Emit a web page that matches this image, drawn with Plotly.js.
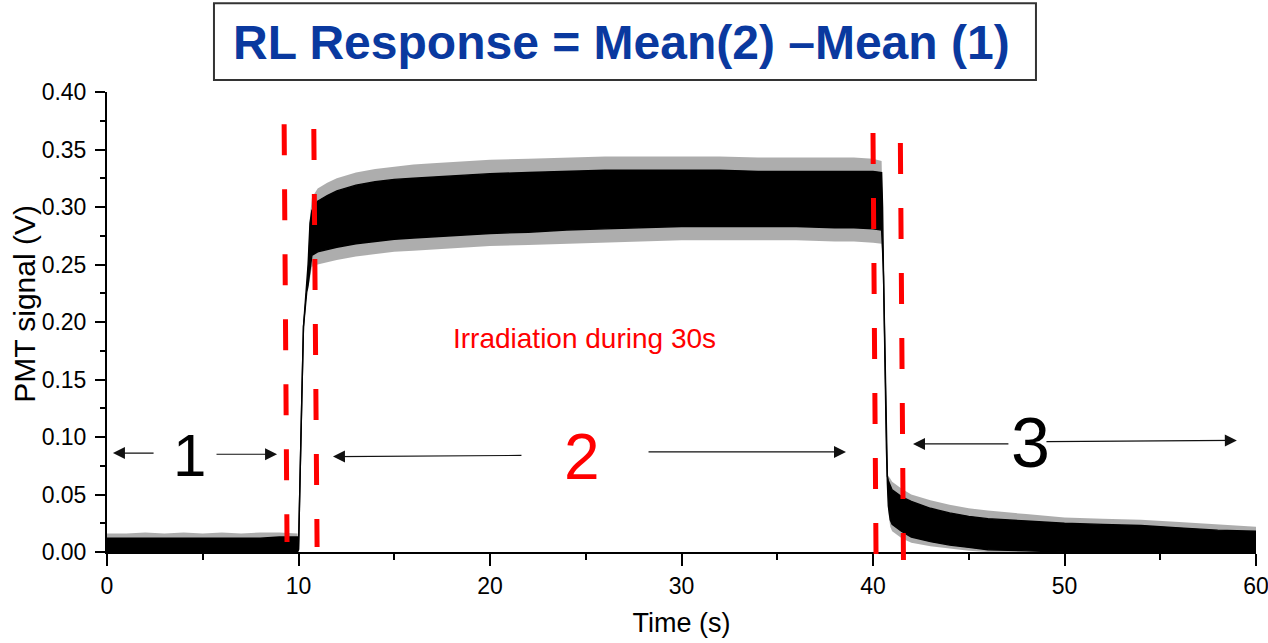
<!DOCTYPE html>
<html>
<head>
<meta charset="utf-8">
<script src="https://cdn.plot.ly/plotly-3.0.1.min.js"></script>
<style>html,body{margin:0;padding:0;background:#fff;}#chart{width:1268px;height:643px;}</style>
</head>
<body>
<div id="chart"></div>
<script>
// ---- Data (time in s, PMT signal in V) ----
const time = [0, 1, 2, 3, 4, 5, 6, 7, 8, 9, 9.95, 10.0, 10.08, 10.17, 10.26, 10.35, 10.43, 10.5, 10.6, 10.7,
  11.0, 11.5, 12, 13, 14, 15, 16, 17, 18, 20, 22, 24, 26, 28, 30, 32, 34, 36, 38, 39, 40, 40.45,
  40.5, 40.55, 40.6, 40.65, 40.7, 40.75, 40.8, 40.9, 41.0, 41.5, 42, 43, 44, 45, 46, 48, 50, 52, 54, 56, 58, 60];

// dense (core) envelope of the noisy trace
const coreUpper = [0.012, 0.012, 0.012, 0.012, 0.012, 0.012, 0.012, 0.012, 0.012, 0.013, 0.013, 0.002, 0.074, 0.132, 0.196, 0.216, 0.231, 0.250, 0.286, 0.297,
  0.305, 0.310, 0.314, 0.319, 0.322, 0.324, 0.325, 0.326, 0.327, 0.329, 0.330, 0.331, 0.332, 0.332, 0.332, 0.332, 0.331, 0.331, 0.331, 0.331, 0.331, 0.330,
  0.300, 0.240, 0.190, 0.130, 0.090, 0.066, 0.062, 0.057, 0.054, 0.048, 0.044, 0.038, 0.034, 0.031, 0.029, 0.027, 0.025, 0.024, 0.023, 0.021, 0.019, 0.018];
const coreLower = [0, 0, 0, 0, 0, 0, 0, 0, 0, 0, 0, 0.002, 0.074, 0.132, 0.196, 0.214, 0.226, 0.232, 0.245, 0.258,
  0.261, 0.263, 0.265, 0.268, 0.270, 0.272, 0.273, 0.274, 0.275, 0.277, 0.278, 0.280, 0.281, 0.282, 0.283, 0.283, 0.283, 0.283, 0.282, 0.282, 0.281, 0.280,
  0.262, 0.240, 0.190, 0.130, 0.090, 0.060, 0.040, 0.028, 0.024, 0.018, 0.013, 0.009, 0.006, 0.004, 0.002, 0.001, 0, 0, 0, 0, 0, 0];

// outer envelope reached by the noise spikes
const spikeUpper = [0.016, 0.016, 0.017, 0.016, 0.017, 0.016, 0.017, 0.016, 0.017, 0.017, 0.016, 0.002, 0.074, 0.132, 0.196, 0.216, 0.231, 0.255, 0.292, 0.308,
  0.316, 0.321, 0.325, 0.330, 0.333, 0.335, 0.337, 0.338, 0.339, 0.341, 0.342, 0.343, 0.344, 0.344, 0.344, 0.344, 0.343, 0.343, 0.343, 0.343, 0.342, 0.340,
  0.300, 0.240, 0.190, 0.130, 0.090, 0.068, 0.066, 0.064, 0.061, 0.055, 0.050, 0.045, 0.041, 0.038, 0.036, 0.033, 0.030, 0.029, 0.028, 0.026, 0.024, 0.022];
const spikeLower = [0, 0, 0, 0, 0, 0, 0, 0, 0, 0, 0, 0.002, 0.074, 0.132, 0.196, 0.214, 0.226, 0.228, 0.238, 0.248,
  0.250, 0.252, 0.254, 0.257, 0.259, 0.261, 0.262, 0.263, 0.264, 0.266, 0.267, 0.268, 0.269, 0.270, 0.271, 0.271, 0.271, 0.271, 0.270, 0.270, 0.269, 0.268,
  0.258, 0.240, 0.190, 0.130, 0.090, 0.058, 0.035, 0.022, 0.018, 0.012, 0.008, 0.005, 0.003, 0.001, 0, 0, 0, 0, 0, 0, 0, 0];

// red dashed markers (time at top / bottom of each slanted dash line)
const markerTop = [9.25, 10.80, 40.00, 41.43];
const markerBottom = [9.40, 10.97, 40.16, 41.59];

// region labels and their arrows
const regionLabels = ['1', '2', '3'];
const regionLabelX = [4.33, 24.8, 48.2];
const regionLabelY = [0.084, 0.083, 0.095];
const regionLabelColor = ['#000000', '#ff0000', '#000000'];
const arrowHeadX = [0.31, 8.88, 11.8, 38.59, 42.09, 59.0];
const arrowHeadY = [0.086, 0.085, 0.083, 0.087, 0.094, 0.097];
const arrowTailX = [2.51, 5.64, 21.72, 28.2, 47.15, 48.98];
const arrowTailY = [0.086, 0.085, 0.084, 0.087, 0.094, 0.096];

const chartTitle = 'RL Response = Mean(2) \u2013Mean (1)';
const xTitle = 'Time (s)';
const yTitle = 'PMT signal (V)';
const noteText = 'Irradiation during 30s';
const noteX = 24.96, noteY = 0.186;

// ---- Traces ----
const traces = [
  {x: time, y: spikeLower, mode: 'lines', line: {width: 0, color: 'rgba(0,0,0,0)'}, hoverinfo: 'skip', showlegend: false},
  {x: time, y: spikeUpper, mode: 'lines', fill: 'tonexty', fillcolor: 'rgba(0,0,0,0.32)', line: {width: 0, color: 'rgba(0,0,0,0)'}, hoverinfo: 'skip', showlegend: false},
  {x: time, y: coreLower, mode: 'lines', line: {width: 1.4, color: '#000'}, showlegend: false},
  {x: time, y: coreUpper, mode: 'lines', fill: 'tonexty', fillcolor: '#000', line: {width: 1.4, color: '#000'}, showlegend: false}
];

// ---- Layout helpers ----
const shapes = [];
// title box
shapes.push({type: 'rect', xref: 'paper', yref: 'paper', x0: 0.0931, x1: 0.8085, y0: 1.026, y1: 1.193,
  line: {color: '#333333', width: 2}, fillcolor: 'rgba(0,0,0,0)'});
const markerTopY = [0.930, 0.9196, 0.911, 0.889];
const markerBotY = [0.0217, 0.0109, -0.0174, -0.0174];
for (let i = 0; i < markerTop.length; i++) {
  shapes.push({type: 'line', xref: 'x', yref: 'paper', x0: markerTop[i], y0: markerTopY[i], x1: markerBottom[i], y1: markerBotY[i],
    line: {color: '#ff0000', width: 5, dash: '31px,34px'}, layer: 'above'});
}

const annotations = [];
for (let i = 0; i < arrowHeadX.length; i++) {
  annotations.push({x: arrowHeadX[i], y: arrowHeadY[i], ax: arrowTailX[i], ay: arrowTailY[i],
    xref: 'x', yref: 'y', axref: 'x', ayref: 'y', text: '', showarrow: true,
    arrowhead: 2, arrowsize: 2, arrowwidth: 1.2, arrowcolor: '#111'});
}
const labelSizes = [60, 64, 70];
for (let i = 0; i < regionLabels.length; i++) {
  annotations.push({x: regionLabelX[i], y: regionLabelY[i], xref: 'x', yref: 'y', text: regionLabels[i], showarrow: false,
    font: {family: 'Liberation Sans, Arial, sans-serif', size: labelSizes[i], color: regionLabelColor[i]},
    xanchor: 'center', yanchor: 'middle'});
}
annotations.push({x: noteX, y: noteY, xref: 'x', yref: 'y', text: noteText, showarrow: false,
  font: {family: 'Liberation Sans, Arial, sans-serif', size: 28, color: '#ff0000'},
  xanchor: 'center', yanchor: 'middle'});
// y-axis title (placed as in the reference, slightly above the axis centre)
annotations.push({x: -0.072, y: 0.54, xref: 'paper', yref: 'paper', text: yTitle, showarrow: false, textangle: -90,
  font: {family: 'Liberation Sans, Arial, sans-serif', size: 30, color: '#000'}, xanchor: 'center', yanchor: 'middle'});

const tickFont = {family: 'Liberation Sans, Arial, sans-serif', size: 23, color: '#000'};
const layout = {
  width: 1268, height: 643,
  margin: {l: 107, r: 12, t: 92, b: 91},
  paper_bgcolor: '#fff', plot_bgcolor: '#fff',
  showlegend: false,
  title: {text: '<b>' + chartTitle + '</b>', xref: 'container', yref: 'container', x: 0.490, y: 0.935,
    xanchor: 'center', yanchor: 'middle',
    font: {family: 'Liberation Sans, Arial, sans-serif', size: 48, color: '#0a399f'}},
  xaxis: {
    range: [0, 60], tickmode: 'linear', tick0: 0, dtick: 10, ticks: 'outside', ticklen: 12, tickwidth: 2, tickcolor: '#000',
    minor: {dtick: 5, ticks: 'outside', ticklen: 6, tickwidth: 2, tickcolor: '#000'},
    showline: true, linecolor: '#000', linewidth: 2, showgrid: false, zeroline: false,
    tickfont: tickFont, ticklabeloverflow: 'allow',
    title: {text: xTitle, font: {family: 'Liberation Sans, Arial, sans-serif', size: 27, color: '#000'}, standoff: 16}
  },
  yaxis: {
    range: [0, 0.40], tickmode: 'linear', tick0: 0, dtick: 0.05, tickformat: '.2f', ticks: 'outside', ticklen: 10, tickwidth: 2, tickcolor: '#000',
    minor: {dtick: 0.025, ticks: 'outside', ticklen: 5, tickwidth: 2, tickcolor: '#000'},
    showline: true, linecolor: '#000', linewidth: 2, showgrid: false, zeroline: false,
    tickfont: tickFont, ticklabelstandoff: 4, ticklabeloverflow: 'allow'
  },
  shapes: shapes,
  annotations: annotations
};

Plotly.newPlot('chart', traces, layout, {displayModeBar: false, staticPlot: true});
</script>
</body>
</html>
